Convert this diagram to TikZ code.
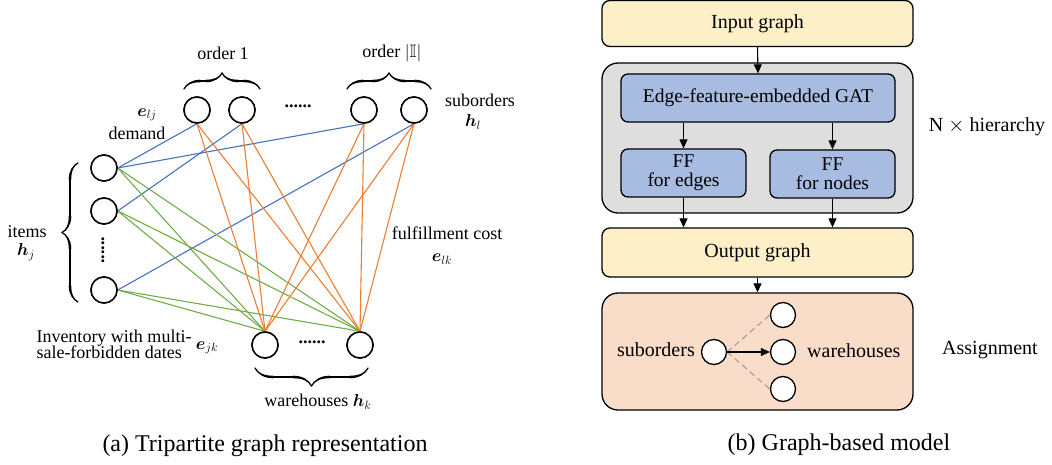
\documentclass[tikz,border=0pt]{standalone}
\usepackage{amsmath,bm}
\usepackage{amssymb}
\usepackage{fontspec}
\setmainfont{Liberation Serif}
\usetikzlibrary{arrows.meta,decorations.pathreplacing,calligraphy}
\definecolor{eblue}{HTML}{4472C4}
\definecolor{eorange}{HTML}{ED7D31}
\definecolor{egreen}{HTML}{70AD47}
\definecolor{boxyellow}{HTML}{FDF0C9}
\definecolor{boxgray}{HTML}{DEDEDE}
\definecolor{boxblue}{HTML}{A8BCE2}
\definecolor{boxpeach}{HTML}{F9DDC9}
\definecolor{dashgray}{HTML}{A0A0A0}
\tikzset{
  vtx/.style={circle,draw=black,line width=1.5pt,minimum size=26pt,inner sep=0pt,fill=white},
  svtx/.style={circle,draw=black,line width=1.3pt,minimum size=25pt,inner sep=0pt,fill=white},
  lbl/.style={font=\fontsize{18}{20}\selectfont,inner sep=0pt,align=center},
  txt/.style={font=\fontsize{20}{22}\selectfont,inner sep=0pt,align=center},
  captext/.style={font=\fontsize{24}{26}\selectfont,inner sep=0pt},
  bedge/.style={eblue,line width=1.1pt},
  oedge/.style={eorange,line width=1.1pt},
  gedge/.style={egreen,line width=1.1pt},
  brc/.style={decorate,decoration={calligraphic brace,amplitude=16pt},line width=2.6pt},
  ybox/.style={draw=black,line width=1.3pt,rounded corners=8pt,fill=boxyellow},
  gbox/.style={draw=black,line width=1.3pt,rounded corners=16pt,fill=boxgray},
  bbox/.style={draw=black,line width=1.3pt,rounded corners=7pt,fill=boxblue,align=center,font=\fontsize{19.5}{19}\selectfont},
  pbox/.style={draw=black,line width=1.3pt,rounded corners=16pt,fill=boxpeach},
  arr/.style={-{Triangle[length=9pt,width=8pt]},line width=1.1pt},
}
\begin{document}
\begin{tikzpicture}[x=1pt,y=-1pt]
\useasboundingbox (0,0) rectangle (1052,465);

% ---------- tripartite graph ----------
% suborders
\node[vtx] (s1) at (197,110) {};
\node[vtx] (s2) at (242,110) {};
\node[vtx] (s3) at (364,110) {};
\node[vtx] (s4) at (414,110) {};
\node[lbl] (sdots) at (298,106) {\textbf{......}};
% items
\node[vtx] (i1) at (104,168) {};
\node[vtx] (i2) at (104,211) {};
\node[vtx] (i3) at (104,290) {};
\node[lbl,rotate=90] (idots) at (103,250) {\textbf{......}};
% warehouses
\node[vtx] (w1) at (265,345) {};
\node[vtx] (w2) at (360,345) {};
\node[lbl] (wdots) at (312,342) {\textbf{......}};

% demand edges
\draw[bedge] (i1.east) -- (s1.south);
\draw[bedge] (i1.east) -- (s3.south);
\draw[bedge] (i2.east) -- (s2.south);
\draw[bedge] (i3.east) -- (s4.south);
% inventory edges
\foreach \i in {i1,i2,i3}
  \foreach \w in {w1,w2}
    \draw[gedge] (\i.east) -- (\w.north);
% fulfillment cost edges
\foreach \s in {s1,s2,s3,s4}
  \foreach \w in {w1,w2}
    \draw[oedge] (\s.south) -- (\w.north);
% redraw vertices on top
\foreach \v in {s1,s2,s3,s4,i1,i2,i3,w1,w2}
  \node[vtx] at (\v) {};

% braces
\coordinate (b1a) at (184,89);
\coordinate (b1b) at (260,89);
\draw[brc] (b1a) -- (b1b);
\coordinate (b2a) at (347,89);
\coordinate (b2b) at (431,89);
\draw[brc] (b2a) -- (b2b);
\coordinate (b3a) at (78,163);
\coordinate (b3b) at (78,302);
\draw[brc,decoration={calligraphic brace,amplitude=16pt,mirror}] (b3a) -- (b3b);
\coordinate (b4a) at (255,368);
\coordinate (b4b) at (368,368);
\draw[brc,decoration={calligraphic brace,amplitude=18pt,mirror}] (b4a) -- (b4b);

% labels
\node[lbl] (o1) at (223,53) {order 1};
\node[lbl] (oI) at (392,53) {order $|\mathbb{I}|$};
\node[lbl] (subl) at (480,100) {suborders};
\node[lbl] (hl) at (473,122) {$\bm{h}_l$};
\node[lbl] (elj) at (147,115) {$\bm{e}_{lj}$};
\node[lbl] (dem) at (137,133) {demand};
\node[lbl] (itl) at (27,232) {items};
\node[lbl] (hj) at (26,252) {$\bm{h}_j$};
\node[lbl,align=left] (inv) at (114,344) {Inventory with multi-\\[-4pt]sale-forbidden dates};
\node[lbl] (ejk) at (207,348) {$\bm{e}_{jk}$};
\node[lbl] (fc) at (447,233) {fulfillment cost};
\node[lbl] (elk) at (442,259) {$\bm{e}_{lk}$};
\node[lbl] (wl) at (318,402) {warehouses $\bm{h}_k$};
\node[captext] (capa) at (265,446) {(a) Tripartite graph representation};

% ---------- graph-based model ----------
\node[ybox,minimum width=311pt,minimum height=46pt] (ing) at (757.5,23.5) {};
\node[txt] at (ing) {Input graph};
\node[gbox,minimum width=311pt,minimum height=150pt] (hier) at (757.5,138) {};
\node[bbox,minimum width=274pt,minimum height=48pt] (gat) at (758,98) {Edge-feature-embedded GAT};
\node[bbox,minimum width=125pt,minimum height=48pt] (ffe) at (683.5,173) {FF\\for edges};
\node[bbox,minimum width=125pt,minimum height=48pt] (ffn) at (832.5,174) {FF\\for nodes};
\node[txt] (nh) at (987,127) {N $\times$ hierarchy};
\node[ybox,minimum width=311pt,minimum height=49pt] (outg) at (757.5,252.5) {};
\node[txt] at (outg) {Output graph};
\node[pbox,minimum width=311pt,minimum height=117pt] (asg) at (757.5,351.5) {};
\node[txt] (asl) at (990,350) {Assignment};

\draw[arr] (ing.south) -- (gat.north);
\draw[arr] (gat.south -| ffe.north) -- (ffe.north);
\draw[arr] (gat.south -| ffn.north) -- (ffn.north);
\draw[arr] (ffe.south) -- (ffe.south |- outg.north);
\draw[arr] (ffn.south) -- (ffn.south |- outg.north);
\draw[arr] (outg.south) -- (asg.north);

% assignment sketch
\node[svtx] (as) at (714,352) {};
\node[svtx] (aw1) at (783,315) {};
\node[svtx] (aw2) at (783,352) {};
\node[svtx] (aw3) at (783,389) {};
\draw[dashgray,line width=1.1pt,dash pattern=on 6pt off 4pt] (as.east) -- (aw1.west);
\draw[dashgray,line width=1.1pt,dash pattern=on 6pt off 4pt] (as.east) -- (aw3.west);
\draw[arr] (as.east) -- (aw2.west);
\node[txt,anchor=east] (asub) at (695,350) {suborders};
\node[txt,anchor=west] (awh) at (807,351) {warehouses};
\node[captext] (capb) at (839,445) {(b) Graph-based model};
\end{tikzpicture}
\end{document}
